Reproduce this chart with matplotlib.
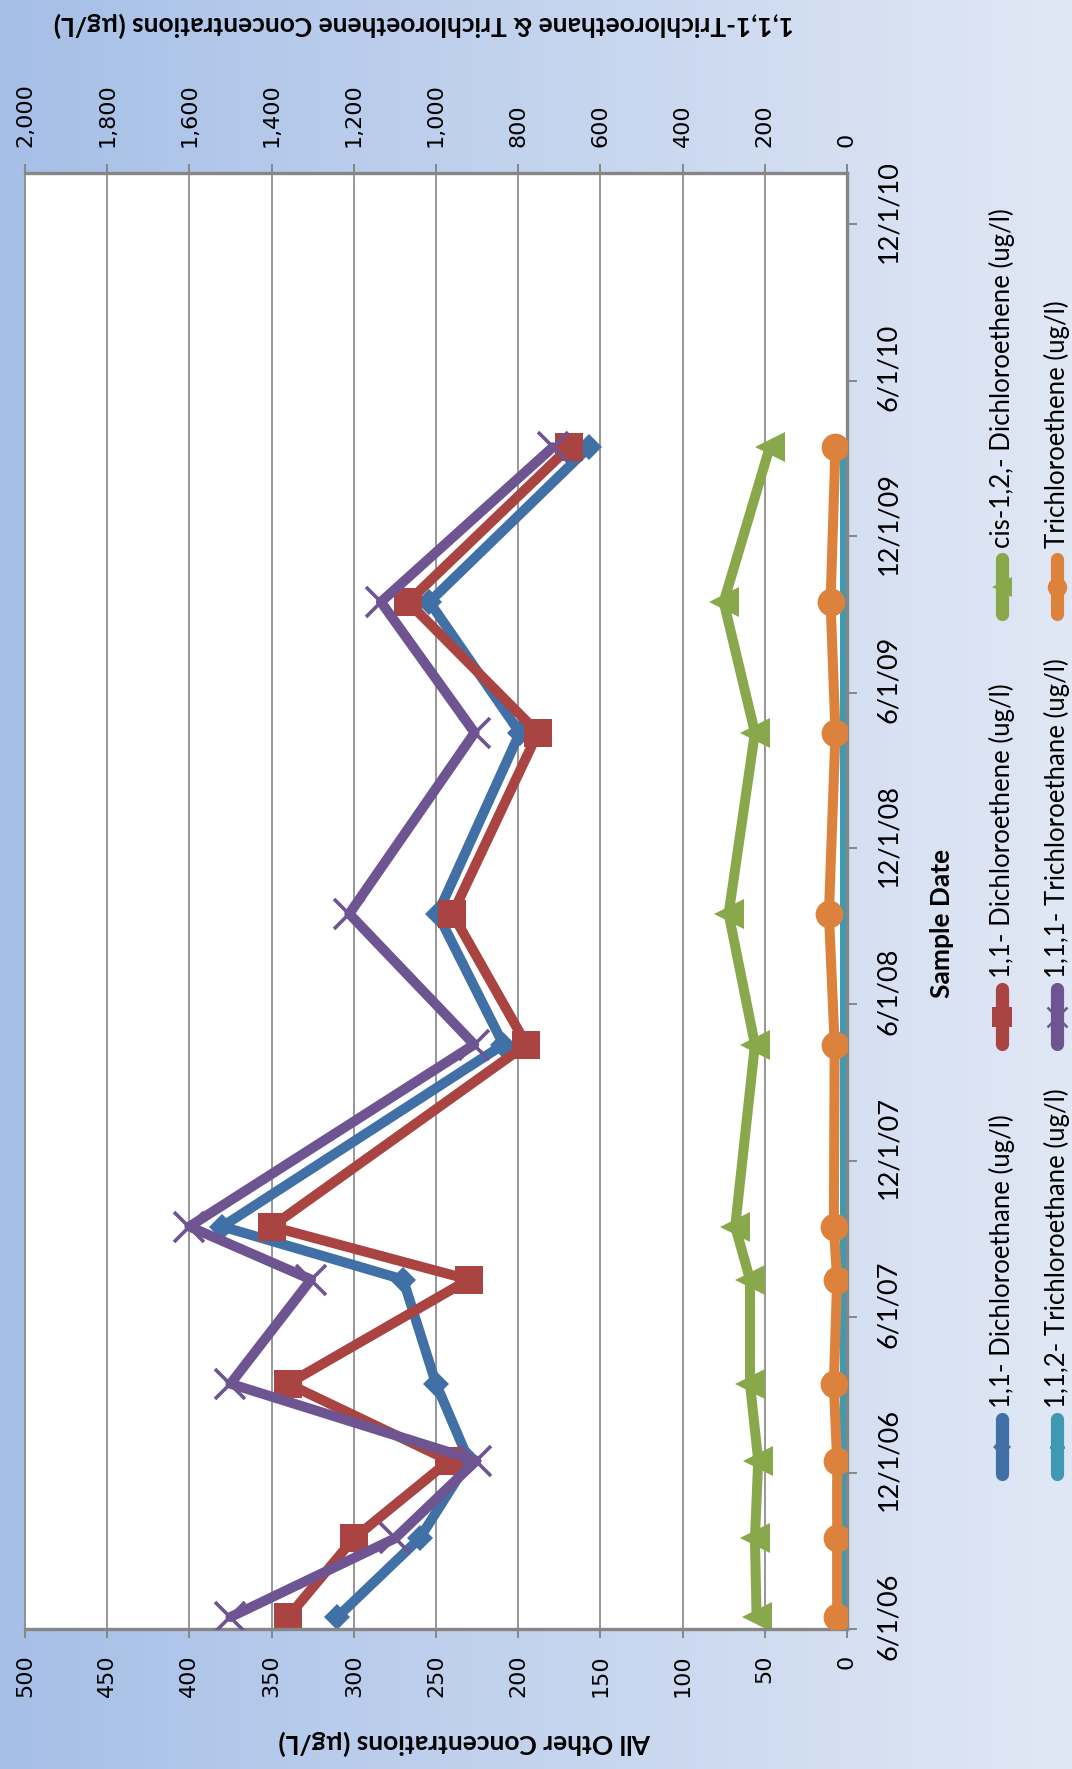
import numpy as np
import matplotlib
matplotlib.use("Agg")
import matplotlib.pyplot as plt
import matplotlib.dates as mdates
import matplotlib.transforms as mtransforms
from matplotlib.lines import Line2D
from matplotlib.ticker import FuncFormatter

plt.rcParams['font.family'] = ['DejaVu Sans']

# sampling dates and concentrations
sample_dates = ["2006-06-15", "2006-09-15", "2006-12-15", "2007-03-15", "2007-07-15",
                "2007-09-15", "2008-04-15", "2008-09-15", "2009-04-15", "2009-09-15",
                "2010-03-15"]

# primary axis (ug/l)
dca_11 = [310, 260, 230, 250, 270, 380, 209, 249, 199, 254, 157]
dce_11 = [340, 300, 242, 340, 230, 350, 195, 240, 188, 267, 169]
cis_dce = [55, 56, 54, 59, 59, 68, 56, 72, 56, 75, 47]
tca_112 = [1, 1, 1, 1, 1, 1, 1, 1, 1, 1, 1]

# secondary axis (ug/l)
tca_111 = [1500, 1100, 902, 1500, 1304, 1600, 907, 1211, 906, 1134, 716]
tce = [24, 24, 24, 32, 24, 32, 30, 44, 28, 40, 28]

date_ticks = ["2006-06-01", "2006-12-01", "2007-06-01", "2007-12-01", "2008-06-01",
              "2008-12-01", "2009-06-01", "2009-12-01", "2010-06-01", "2010-12-01"]
date_labels = ["6/1/06", "12/1/06", "6/1/07", "12/1/07", "6/1/08",
               "12/1/08", "6/1/09", "12/1/09", "6/1/10", "12/1/10"]
date_range = ["2006-06-01", "2011-01-30"]

primary_ticks = list(range(0, 501, 50))
secondary_ticks = list(range(0, 2001, 200))

W, H = 1072, 1769
grey = '#868686'
grid_grey = '#8f8f8f'

series_style = {
    '1,1- Dichloroethane (ug/l)':      dict(color='#4170a7', marker='D', ms=13),
    '1,1- Dichloroethene (ug/l)':      dict(color='#a94442', marker='s', ms=20),
    'cis-1,2,- Dichloroethene (ug/l)': dict(color='#89a84b', marker='<', ms=21),
    '1,1,2- Trichloroethane (ug/l)':   dict(color='#3f99b0', marker=(6, 2, 90), ms=15),
    '1,1,1- Trichloroethane (ug/l)':   dict(color='#6f5492', marker='x', ms=21),
    'Trichloroethene (ug/l)':          dict(color='#dc823c', marker='o', ms=20),
}

fig = plt.figure(figsize=(W / 100, H / 100), dpi=100)

# background gradient
bg = fig.add_axes([0, 0, 1, 1], zorder=-10)
left_c = np.array([166, 191, 231]) / 255
right_c = np.array([225, 232, 245]) / 255
t = np.linspace(0, 1, 256)[None, :, None]
grad = left_c[None, None, :] * (1 - t) + right_c[None, None, :] * t
bg.imshow(grad, aspect='auto', extent=[0, 1, 0, 1])
bg.axis('off')

def fx(px):
    return px / W

def fy(py):
    return 1 - py / H

def is_thin(marker):
    return marker == 'x' or isinstance(marker, tuple)

ax = fig.add_axes([fx(25), fy(1629), (847 - 25) / W, (1629 - 173) / H])
ax.set_facecolor('white')
ax2 = ax.twiny()
ax2.patch.set_visible(False)

dates = np.array(sample_dates, dtype='datetime64[D]')

def draw(axis, values, name):
    st = series_style[name]
    axis.plot(values, dates, color=st['color'], lw=7.2, marker=st['marker'],
              ms=st['ms'], mew=2.6 if is_thin(st['marker']) else 0, mec=st['color'],
              mfc=st['color'], solid_joinstyle='round', solid_capstyle='round')

draw(ax, dca_11, '1,1- Dichloroethane (ug/l)')
draw(ax, dce_11, '1,1- Dichloroethene (ug/l)')
draw(ax, cis_dce, 'cis-1,2,- Dichloroethene (ug/l)')
draw(ax, tca_112, '1,1,2- Trichloroethane (ug/l)')
draw(ax2, tca_111, '1,1,1- Trichloroethane (ug/l)')
draw(ax2, tce, 'Trichloroethene (ug/l)')

# value axes (run right to left)
ax.set_xlim(500, 0)
ax2.set_xlim(2000, 0)
ax.set_xticks(primary_ticks)
ax2.set_xticks(secondary_ticks)
ax2.xaxis.set_major_formatter(FuncFormatter(lambda v, p: f"{int(v):,}"))
ax.grid(axis='x', color=grid_grey, lw=1.3)
ax.set_axisbelow(True)

# date axis
ax.set_ylim(np.datetime64(date_range[0]), np.datetime64(date_range[1]))
ax.set_yticks(mdates.date2num(np.array(date_ticks, dtype='datetime64[D]')))
ax.set_yticklabels(date_labels)
ax.yaxis.tick_right()

for sp in ax2.spines.values():
    sp.set_visible(False)
ax.spines['left'].set_color(grid_grey)
ax.spines['left'].set_linewidth(1.3)
for side in ('top', 'bottom', 'right'):
    ax.spines[side].set_color(grey)
    ax.spines[side].set_linewidth(2.4)

ax.tick_params(axis='x', direction='out', length=6.5, width=1.4, color=grey,
               labelsize=16, labelrotation=90, pad=12)
ax2.tick_params(axis='x', direction='out', length=6.5, width=1.4, color=grey,
                labelsize=16, labelrotation=90, pad=12, top=True, labeltop=True,
                bottom=False, labelbottom=False)
ax.tick_params(axis='y', direction='out', length=7, width=1.4, color=grey,
               labelsize=19.5, labelrotation=90, pad=14, right=True, left=False)

shift = mtransforms.ScaledTranslation(0, 0.13, fig.dpi_scale_trans)
for lbl in ax.get_yticklabels():
    lbl.set_fontfamily('Lato')
    lbl.set_va('center')
    lbl.set_transform(lbl.get_transform() + shift)

# axis titles
fig.text(fx(424), fy(25), '1,1,1-Trichloroethane & Trichloroethene Concentrations (µg/L)',
         rotation=180, ha='center', va='center', fontsize=19, fontweight='bold',
         family='Lato')
fig.text(fx(465), fy(1743), 'All Other Concentrations (µg/L)',
         rotation=180, ha='center', va='center', fontsize=19, fontweight='bold',
         family='Lato')
fig.text(fx(942), fy(923), 'Sample Date', rotation=90, ha='center', va='center',
         fontsize=19, fontweight='bold', family='Lato')

# legend, two rows of three entries
legend_rows = [
    ['1,1- Dichloroethane (ug/l)', '1,1- Dichloroethene (ug/l)', 'cis-1,2,- Dichloroethene (ug/l)'],
    ['1,1,2- Trichloroethane (ug/l)', '1,1,1- Trichloroethane (ug/l)', 'Trichloroethene (ug/l)'],
]
row_x = [1002, 1057]
col_start = [1480, 1050, 620]
for r, names in enumerate(legend_rows):
    for c, name in enumerate(names):
        st = series_style[name]
        x0 = fx(row_x[r])
        y0 = col_start[c]
        fig.add_artist(Line2D([x0, x0], [fy(y0 - 6), fy(y0 - 61)], transform=fig.transFigure,
                              color=st['color'], lw=9.5, solid_capstyle='round'))
        fig.add_artist(Line2D([x0], [fy(y0 - 33)], transform=fig.transFigure,
                              color=st['color'], marker=st['marker'], ms=st['ms'] * 0.7,
                              mew=1.8 if is_thin(st['marker']) else 0,
                              mec=st['color'], mfc=st['color']))
        fig.text(x0, fy(y0 - 72), name, rotation=90, ha='center', va='bottom',
                 fontsize=18.5, family='Lato')

fig.savefig('out.png', dpi=100)
